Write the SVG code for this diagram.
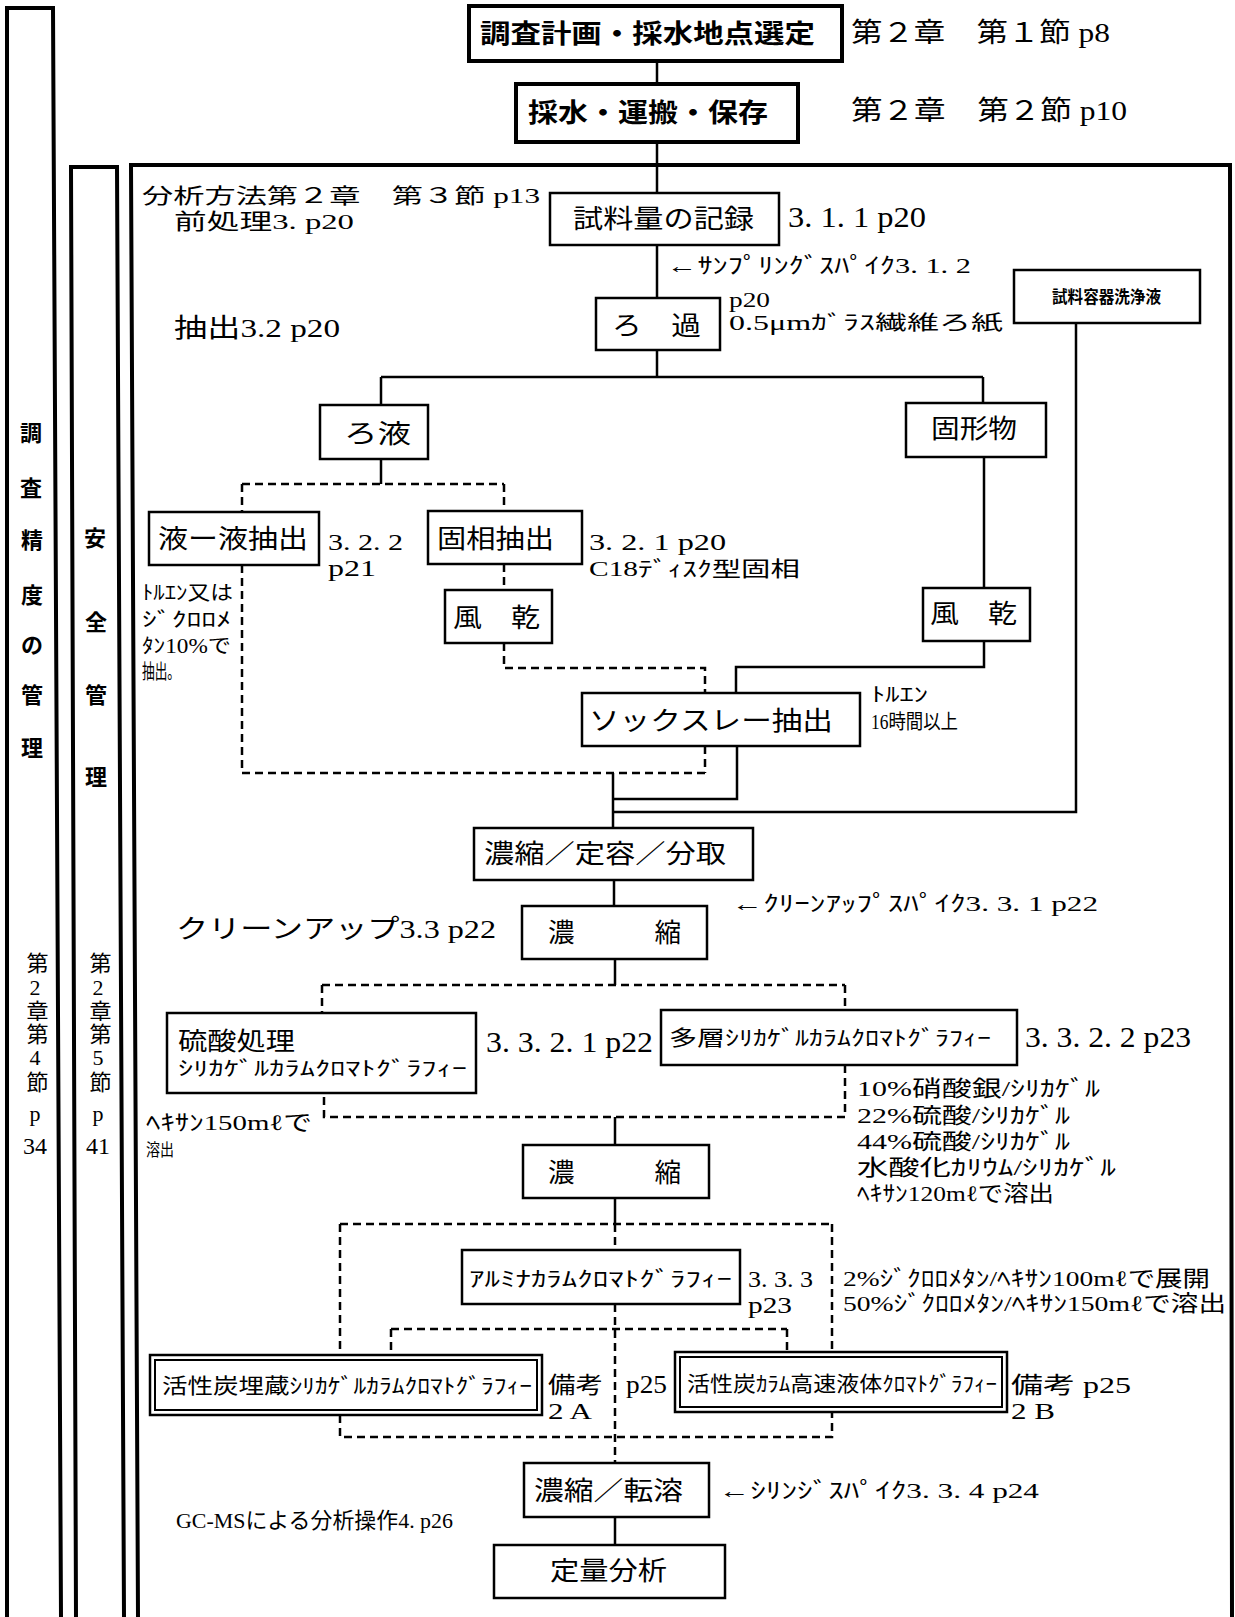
<svg xmlns="http://www.w3.org/2000/svg" width="1235" height="1617" viewBox="0 0 1235 1617">
<style>
.fr{fill:none;stroke:#000;stroke-width:4}
.bx{fill:#fff;stroke:#000;stroke-width:2.5}
.bk{fill:#fff;stroke:#000;stroke-width:4}
.bd{fill:none;stroke:#000;stroke-width:2}
.ln{fill:none;stroke:#000;stroke-width:2.5}
.ds{fill:none;stroke:#000;stroke-width:2.5;stroke-dasharray:8 5}
text{font-family:"Liberation Serif","Noto Sans CJK JP",serif;fill:#000}
.g{font-family:"Noto Sans CJK JP",sans-serif;font-weight:bold}
.v{writing-mode:vertical-rl;text-orientation:upright}
</style>
<rect width="1235" height="1617" fill="#fff"/>

<g id="frames">
<path class="fr" d="M7,1617 L7,8 L53,8 L61,1617"/>
<path class="fr" d="M76,1617 L71,167 L117,167 L124,1617"/>
<path class="fr" d="M138,1617 L131,165 L1230,165 L1232,1617"/>
</g>

<g id="connectors">
<path class="ln" d="M657,61 V84 M657,142 V193 M657,245 V298 M657,350 V377 M381,377 H983 M381,377 V405 M983,377 V403"/>
<path class="ln" d="M984,457 V588 M984,641 V667 H736 V693 M737,746 V799 H613 M1076,323 V812 H613 M613,773 V828"/>
<path class="ln" d="M381,459 V484"/>
<path class="ds" d="M242,484 H504 M242,484 V512 M504,484 V511 M242,565 V773 H705 M504,564 V590 M504,643 V668 H705 V693 M705,746 V773"/>
<path class="ln" d="M614,880 V906 M615,959 V985 M615,1117 V1145 M615,1198 V1224 M615,1517 V1545"/>
<path class="ds" d="M322,985 H845 M322,985 V1013 M845,985 V1010 M845,1065 V1117 H324 V1093"/>
<path class="ds" d="M340,1224 H832 M340,1224 V1355 M832,1224 V1352 M615,1224 V1250 M615,1304 V1463 M391,1329 H787 M391,1329 V1355 M787,1329 V1352 M340,1415 V1437 H832 V1412"/>
</g>

<g id="n-plan">
<rect class="bk" x="469" y="6" width="373" height="55"/>
<text class="g" x="480" y="43" font-size="26" textLength="335" lengthAdjust="spacingAndGlyphs">調査計画・採水地点選定</text>
<text x="851" y="42" font-size="27" textLength="259" lengthAdjust="spacingAndGlyphs">第２章　第１節 p8</text>
</g>
<g id="n-sampling">
<rect class="bk" x="516" y="84" width="282" height="58"/>
<text class="g" x="528" y="122" font-size="26" textLength="240" lengthAdjust="spacingAndGlyphs">採水・運搬・保存</text>
<text x="851" y="120" font-size="27" textLength="276" lengthAdjust="spacingAndGlyphs">第２章　第２節 p10</text>
</g>

<g id="labels-main">
<text x="142" y="203" font-size="21" textLength="398" lengthAdjust="spacingAndGlyphs">分析方法第２章　第３節 p13</text>
<text x="174" y="229" font-size="22" textLength="180" lengthAdjust="spacingAndGlyphs">前処理3.  p20</text>
<text x="174" y="337" font-size="26" textLength="166" lengthAdjust="spacingAndGlyphs">抽出3.2 p20</text>
<text x="176" y="938" font-size="26" textLength="320" lengthAdjust="spacingAndGlyphs">クリーンアップ3.3 p22</text>
<text x="176" y="1528" font-size="22" textLength="277" lengthAdjust="spacingAndGlyphs">GC-MSによる分析操作4.  p26</text>
</g>

<g id="n-record">
<rect class="bx" x="550" y="193" width="229" height="52"/>
<text x="573" y="228" font-size="26" textLength="181" lengthAdjust="spacingAndGlyphs">試料量の記録</text>
<text x="788" y="227" font-size="30" textLength="138" lengthAdjust="spacingAndGlyphs">3. 1. 1  p20</text>
<text x="667" y="273" font-size="22" textLength="304" lengthAdjust="spacingAndGlyphs">←ｻﾝﾌﾟﾘﾝｸﾞｽﾊﾟｲｸ3. 1. 2</text>
</g>

<g id="n-filter">
<rect class="bx" x="596" y="298" width="124" height="52"/>
<text x="612" y="335" font-size="26" textLength="89" lengthAdjust="spacingAndGlyphs">ろ　過</text>
<text x="729" y="307" font-size="20" textLength="41" lengthAdjust="spacingAndGlyphs">p20</text>
<text x="729" y="330" font-size="20" textLength="274" lengthAdjust="spacingAndGlyphs">0.5μmｶﾞﾗｽ繊維ろ紙</text>
</g>

<g id="n-rinse">
<rect class="bx" x="1014" y="270" width="186" height="53"/>
<text class="g" x="1052" y="303" font-size="17" textLength="109" lengthAdjust="spacingAndGlyphs">試料容器洗浄液</text>
</g>

<g id="n-filtrate">
<rect class="bx" x="320" y="405" width="108" height="54"/>
<text x="344" y="443" font-size="26" textLength="67" lengthAdjust="spacingAndGlyphs">ろ液</text>
</g>

<g id="n-solid">
<rect class="bx" x="906" y="403" width="140" height="54"/>
<text x="931" y="438" font-size="26" textLength="86" lengthAdjust="spacingAndGlyphs">固形物</text>
</g>

<g id="n-lle">
<rect class="bx" x="149" y="512" width="170" height="53"/>
<text x="158" y="548" font-size="26" textLength="150" lengthAdjust="spacingAndGlyphs">液ー液抽出</text>
<text x="328" y="550" font-size="23" textLength="75" lengthAdjust="spacingAndGlyphs">3. 2. 2</text>
<text x="328" y="576" font-size="23" textLength="48" lengthAdjust="spacingAndGlyphs">p21</text>
<text x="142" y="600" font-size="20" textLength="91" lengthAdjust="spacingAndGlyphs">ﾄﾙｴﾝ又は</text>
<text x="142" y="627" font-size="20" textLength="89" lengthAdjust="spacingAndGlyphs">ｼﾞｸﾛﾛﾒ</text>
<text x="142" y="653" font-size="20" textLength="89" lengthAdjust="spacingAndGlyphs">ﾀﾝ10%で</text>
<text x="142" y="679" font-size="20" textLength="38" lengthAdjust="spacingAndGlyphs">抽出。</text>
</g>

<g id="n-spe">
<rect class="bx" x="428" y="511" width="154" height="53"/>
<text x="437" y="548" font-size="26" textLength="117" lengthAdjust="spacingAndGlyphs">固相抽出</text>
<text x="589" y="550" font-size="23" textLength="137" lengthAdjust="spacingAndGlyphs">3. 2. 1  p20</text>
<text x="589" y="576" font-size="21" textLength="211" lengthAdjust="spacingAndGlyphs">C18ﾃﾞｨｽｸ型固相</text>
</g>

<g id="n-dry1">
<rect class="bx" x="445" y="590" width="107" height="53"/>
<text x="453" y="627" font-size="26" textLength="87" lengthAdjust="spacingAndGlyphs">風　乾</text>
</g>

<g id="n-dry2">
<rect class="bx" x="923" y="588" width="107" height="53"/>
<text x="930" y="623" font-size="26" textLength="87" lengthAdjust="spacingAndGlyphs">風　乾</text>
</g>

<g id="n-soxhlet">
<rect class="bx" x="582" y="693" width="278" height="53"/>
<text x="589" y="730" font-size="26" textLength="244" lengthAdjust="spacingAndGlyphs">ソックスレー抽出</text>
<text x="871" y="702" font-size="20" textLength="57" lengthAdjust="spacingAndGlyphs">ﾄﾙｴﾝ</text>
<text x="871" y="729" font-size="20" textLength="87" lengthAdjust="spacingAndGlyphs">16時間以上</text>
</g>

<g id="n-conc1">
<rect class="bx" x="474" y="828" width="279" height="52"/>
<text x="484" y="863" font-size="26" textLength="242" lengthAdjust="spacingAndGlyphs">濃縮／定容／分取</text>
</g>

<g id="n-conc2">
<rect class="bx" x="522" y="906" width="185" height="53"/>
<text x="548" y="942" font-size="26" textLength="133" lengthAdjust="spacingAndGlyphs">濃　　　縮</text>
<text x="732" y="911" font-size="22" textLength="366" lengthAdjust="spacingAndGlyphs">←ｸﾘｰﾝｱｯﾌﾟｽﾊﾟｲｸ3. 3. 1  p22</text>
</g>

<g id="n-sulfuric">
<rect class="bx" x="167" y="1013" width="309" height="80"/>
<text x="178" y="1050" font-size="25" textLength="117" lengthAdjust="spacingAndGlyphs">硫酸処理</text>
<text x="178" y="1076" font-size="20" textLength="289" lengthAdjust="spacingAndGlyphs">ｼﾘｶｹﾞﾙｶﾗﾑｸﾛﾏﾄｸﾞﾗﾌｨｰ</text>
<text x="486" y="1052" font-size="30" textLength="167" lengthAdjust="spacingAndGlyphs">3. 3. 2. 1  p22</text>
<text x="146" y="1130" font-size="22" textLength="166" lengthAdjust="spacingAndGlyphs">ﾍｷｻﾝ150mℓで</text>
<text x="146" y="1156" font-size="17" textLength="28" lengthAdjust="spacingAndGlyphs">溶出</text>
</g>

<g id="n-multilayer">
<rect class="bx" x="661" y="1010" width="356" height="55"/>
<text x="669" y="1045" font-size="21" textLength="322" lengthAdjust="spacingAndGlyphs">多層ｼﾘｶｹﾞﾙｶﾗﾑｸﾛﾏﾄｸﾞﾗﾌｨｰ</text>
<text x="1025" y="1047" font-size="30" textLength="166" lengthAdjust="spacingAndGlyphs">3. 3. 2. 2  p23</text>
<text x="857" y="1096" font-size="22" textLength="243" lengthAdjust="spacingAndGlyphs">10%硝酸銀/ｼﾘｶｹﾞﾙ</text>
<text x="857" y="1123" font-size="22" textLength="213" lengthAdjust="spacingAndGlyphs">22%硫酸/ｼﾘｶｹﾞﾙ</text>
<text x="857" y="1149" font-size="22" textLength="213" lengthAdjust="spacingAndGlyphs">44%硫酸/ｼﾘｶｹﾞﾙ</text>
<text x="857" y="1175" font-size="22" textLength="259" lengthAdjust="spacingAndGlyphs">水酸化ｶﾘｳﾑ/ｼﾘｶｹﾞﾙ</text>
<text x="857" y="1201" font-size="22" textLength="197" lengthAdjust="spacingAndGlyphs">ﾍｷｻﾝ120mℓで溶出</text>
</g>

<g id="n-conc3">
<rect class="bx" x="523" y="1145" width="186" height="53"/>
<text x="548" y="1182" font-size="26" textLength="133" lengthAdjust="spacingAndGlyphs">濃　　　縮</text>
</g>

<g id="n-alumina">
<rect class="bx" x="462" y="1250" width="278" height="54"/>
<text x="469" y="1286" font-size="21" textLength="263" lengthAdjust="spacingAndGlyphs">ｱﾙﾐﾅｶﾗﾑｸﾛﾏﾄｸﾞﾗﾌｨｰ</text>
<text x="748" y="1287" font-size="23" textLength="65" lengthAdjust="spacingAndGlyphs">3. 3. 3</text>
<text x="748" y="1313" font-size="23" textLength="44" lengthAdjust="spacingAndGlyphs">p23</text>
<text x="843" y="1286" font-size="22" textLength="367" lengthAdjust="spacingAndGlyphs">2%ｼﾞｸﾛﾛﾒﾀﾝ/ﾍｷｻﾝ100mℓで展開</text>
<text x="843" y="1311" font-size="22" textLength="383" lengthAdjust="spacingAndGlyphs">50%ｼﾞｸﾛﾛﾒﾀﾝ/ﾍｷｻﾝ150mℓで溶出</text>
</g>

<g id="n-carbon-silica">
<rect class="bx" x="150" y="1355" width="392" height="60"/>
<rect class="bd" x="155" y="1360" width="382" height="50"/>
<text x="162" y="1393" font-size="21" textLength="370" lengthAdjust="spacingAndGlyphs">活性炭埋蔵ｼﾘｶｹﾞﾙｶﾗﾑｸﾛﾏﾄｸﾞﾗﾌｨｰ</text>
<text x="548" y="1393" font-size="23" textLength="55" lengthAdjust="spacingAndGlyphs">備考</text>
<text x="548" y="1419" font-size="23" textLength="44" lengthAdjust="spacingAndGlyphs">2  A</text>
<text x="626" y="1393" font-size="26" textLength="41" lengthAdjust="spacingAndGlyphs">p25</text>
</g>

<g id="n-carbon-hplc">
<rect class="bx" x="675" y="1352" width="332" height="60"/>
<rect class="bd" x="680" y="1357" width="322" height="50"/>
<text x="687" y="1391" font-size="21" textLength="310" lengthAdjust="spacingAndGlyphs">活性炭ｶﾗﾑ高速液体ｸﾛﾏﾄｸﾞﾗﾌｨｰ</text>
<text x="1011" y="1393" font-size="23" textLength="120" lengthAdjust="spacingAndGlyphs">備考  p25</text>
<text x="1011" y="1419" font-size="23" textLength="44" lengthAdjust="spacingAndGlyphs">2  B</text>
</g>

<g id="n-conc4">
<rect class="bx" x="524" y="1463" width="185" height="54"/>
<text x="534" y="1500" font-size="26" textLength="149" lengthAdjust="spacingAndGlyphs">濃縮／転溶</text>
<text x="719" y="1498" font-size="22" textLength="320" lengthAdjust="spacingAndGlyphs">←ｼﾘﾝｼﾞｽﾊﾟｲｸ3. 3. 4  p24</text>
</g>

<g id="n-quant">
<rect class="bx" x="494" y="1545" width="231" height="53"/>
<text x="550" y="1580" font-size="26" textLength="117" lengthAdjust="spacingAndGlyphs">定量分析</text>
</g>

<g id="col-accuracy">
<text class="g" font-size="22" text-anchor="middle">
<tspan x="31" y="441">調</tspan><tspan x="31" y="496">査</tspan><tspan x="32" y="548">精</tspan><tspan x="32" y="603">度</tspan><tspan x="32" y="653">の</tspan><tspan x="32" y="703">管</tspan><tspan x="32" y="756">理</tspan>
</text>
<text class="v" x="35" y="952" font-size="22" letter-spacing="0.5">第2章第4節</text>
<text x="35" y="1121" font-size="22" text-anchor="middle">p</text>
<text x="35" y="1154" font-size="24" text-anchor="middle">34</text>
</g>

<g id="col-safety">
<text class="g" font-size="22" text-anchor="middle">
<tspan x="95" y="546">安</tspan><tspan x="96" y="630">全</tspan><tspan x="96" y="703">管</tspan><tspan x="96" y="785">理</tspan>
</text>
<text class="v" x="98" y="952" font-size="22" letter-spacing="0.5">第2章第5節</text>
<text x="98" y="1121" font-size="22" text-anchor="middle">p</text>
<text x="98" y="1154" font-size="24" text-anchor="middle">41</text>
</g>
</svg>
